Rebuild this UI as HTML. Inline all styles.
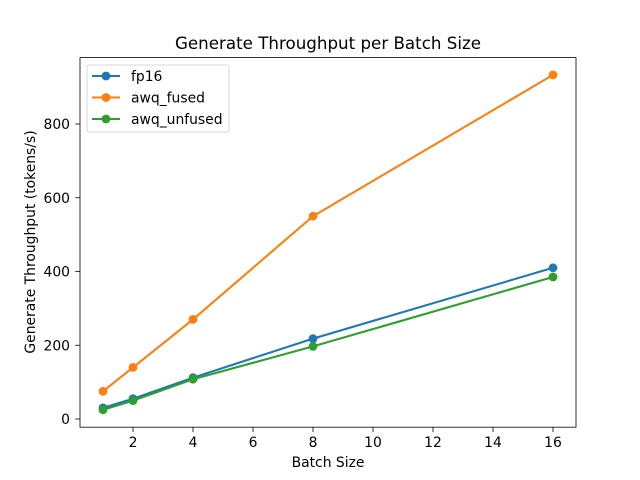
<!DOCTYPE html>
<html><head><meta charset="utf-8"><style>body{margin:0;background:#fff}svg{display:block}text{font-family:"DejaVu Sans","Liberation Sans",sans-serif;fill:#000}</style></head><body>
<svg width="640" height="480" viewBox="0 0 640 480" xmlns="http://www.w3.org/2000/svg">
<rect width="640" height="480" fill="#fff"/>
<text x="328" y="49" font-size="16.7" text-anchor="middle">Generate Throughput per Batch Size</text>
<g stroke="#000" stroke-width="0.8">
<line x1="133" y1="427.2" x2="133" y2="432"/><line x1="193" y1="427.2" x2="193" y2="432"/><line x1="253" y1="427.2" x2="253" y2="432"/><line x1="313" y1="427.2" x2="313" y2="432"/><line x1="373" y1="427.2" x2="373" y2="432"/><line x1="433" y1="427.2" x2="433" y2="432"/><line x1="493" y1="427.2" x2="493" y2="432"/><line x1="553" y1="427.2" x2="553" y2="432"/>
<line x1="75.2" y1="419" x2="80" y2="419"/><line x1="75.2" y1="345.25" x2="80" y2="345.25"/><line x1="75.2" y1="271.5" x2="80" y2="271.5"/><line x1="75.2" y1="197.75" x2="80" y2="197.75"/><line x1="75.2" y1="124" x2="80" y2="124"/>
</g>
<g font-size="13.9" text-anchor="middle">
<text x="133" y="447">2</text><text x="193" y="447">4</text><text x="253" y="447">6</text><text x="313" y="447">8</text><text x="373" y="447">10</text><text x="433" y="447">12</text><text x="493" y="447">14</text><text x="553" y="447">16</text>
</g>
<g font-size="13.9" text-anchor="end">
<text x="70" y="424">0</text><text x="70" y="350.3">200</text><text x="70" y="276.5">400</text><text x="70" y="202.8">600</text><text x="70" y="129">800</text>
</g>
<text x="328" y="467" font-size="13.9" text-anchor="middle">Batch Size</text>
<text transform="translate(35,242) rotate(-90)" font-size="13.9" text-anchor="middle">Generate Throughput (tokens/s)</text>
<g fill="none" stroke-width="2.08">
<polyline stroke="#1f77b4" points="103,407.9 133,398.7 193,377.7 313,338.6 553,267.8"/>
<polyline stroke="#ff7f0e" points="103,391.3 133,367.4 193,319.4 313,216.2 553,74.9"/>
<polyline stroke="#2ca02c" points="103,409.8 133,400.6 193,379.2 313,346.4 553,277"/>
</g>
<g fill="#1f77b4"><circle cx="103" cy="407.9" r="4.4"/><circle cx="133" cy="398.7" r="4.4"/><circle cx="193" cy="377.7" r="4.4"/><circle cx="313" cy="338.6" r="4.4"/><circle cx="553" cy="267.8" r="4.4"/></g>
<g fill="#ff7f0e"><circle cx="103" cy="391.3" r="4.4"/><circle cx="133" cy="367.4" r="4.4"/><circle cx="193" cy="319.4" r="4.4"/><circle cx="313" cy="216.2" r="4.4"/><circle cx="553" cy="74.9" r="4.4"/></g>
<g fill="#2ca02c"><circle cx="103" cy="409.8" r="4.4"/><circle cx="133" cy="400.6" r="4.4"/><circle cx="193" cy="379.2" r="4.4"/><circle cx="313" cy="346.4" r="4.4"/><circle cx="553" cy="277" r="4.4"/></g>
<rect x="80" y="57.6" width="496" height="369.6" fill="none" stroke="#000" stroke-width="0.8"/>
<rect x="87" y="65" width="142" height="67" rx="2" fill="#fff" fill-opacity="0.8" stroke="#ccc" stroke-width="0.8"/>
<g stroke-width="2.08">
<line x1="92" y1="76" x2="120" y2="76" stroke="#1f77b4"/><circle cx="106" cy="76" r="4.4" fill="#1f77b4"/>
<line x1="92" y1="97.5" x2="120" y2="97.5" stroke="#ff7f0e"/><circle cx="106" cy="97.5" r="4.4" fill="#ff7f0e"/>
<line x1="92" y1="119" x2="120" y2="119" stroke="#2ca02c"/><circle cx="106" cy="119" r="4.4" fill="#2ca02c"/>
</g>
<g font-size="13.9"><text x="131" y="81">fp16</text><text x="131" y="102.5">awq_fused</text><text x="131" y="124">awq_unfused</text></g>
</svg>
</body></html>
